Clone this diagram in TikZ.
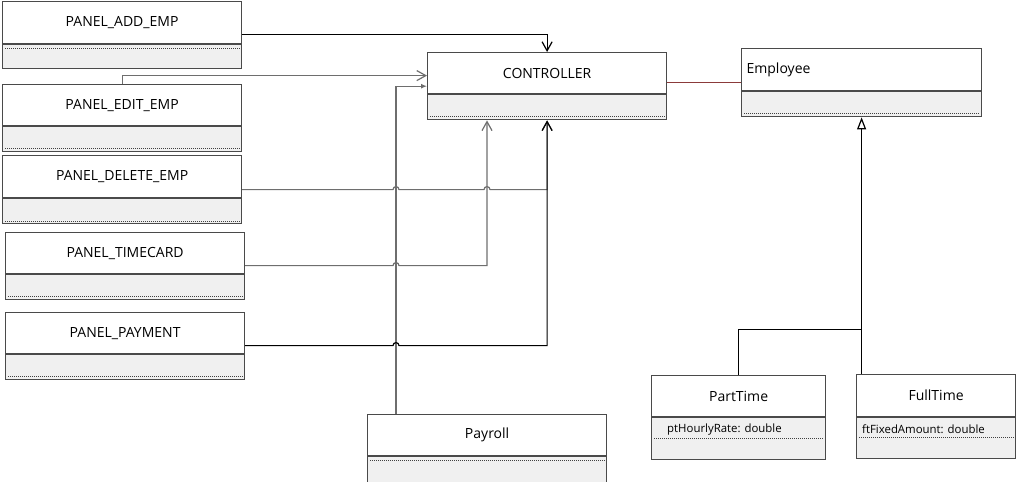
\documentclass[tikz,border=0pt]{standalone}
\usepackage{fontspec}
\setmainfont{Open Sans}
\usepackage{tikz}
\usetikzlibrary{shapes,arrows.meta,calc,positioning}
\definecolor{boxline}{HTML}{4A4A4A}
\definecolor{opsfill}{HTML}{F0F0F0}
\definecolor{wire}{HTML}{6E6E6E}
\definecolor{assocred}{HTML}{8B3A3A}
\tikzstyle{cls} = [draw=boxline, fill=white, line width=1.2pt, inner sep=0pt, anchor=north west,
  minimum width=239pt, minimum height=41pt, font=\fontsize{14}{16}\selectfont]
\tikzstyle{ops} = [draw=boxline, fill=opsfill, line width=1.2pt, inner sep=0pt, anchor=north,
  minimum width=239pt, minimum height=25pt]
\tikzstyle{attr} = [inner sep=0pt, anchor=west, font=\fontsize{11.4}{13}\selectfont]
\tikzset{
  sep/.style ={draw=black!75, line width=0.8pt, dash pattern=on 1pt off 1pt},
  dep/.style ={draw=wire, line width=1.2pt, -{Straight Barb[length=9pt,width=10pt]}},
  depb/.style ={draw=black, line width=1.2pt, -{Straight Barb[length=9pt,width=10pt]}},
  gen/.style ={draw=black, line width=1.2pt, -{Triangle[open,length=12pt,width=9pt,fill=white]}},
  assoc/.style ={draw=assocred, line width=1pt}
}

\begin{document}
\begin{tikzpicture}[x=1pt,y=-1pt]
	\useasboundingbox (0,0) rectangle (1018,482);
	% panels on the left
	\node[cls, minimum height=42pt] (addemp) at (2,1) {PANEL\_ADD\_EMP};
	\node[ops, minimum height=24pt] (addempops) at (addemp.south) {};
	\node[cls] (editemp) at (2,84) {PANEL\_EDIT\_EMP};
	\node[ops] (editempops) at (editemp.south) {};
	\node[cls, minimum height=42pt] (delemp) at (2,155) {PANEL\_DELETE\_EMP};
	\node[ops] (delempops) at (delemp.south) {};
	\node[cls] (timecard) at (5,232) {PANEL\_TIMECARD};
	\node[ops] (timecardops) at (timecard.south) {};
	\node[cls] (payment) at (5,312) {PANEL\_PAYMENT};
	\node[ops] (paymentops) at (payment.south) {};
	% controller and payroll
	\node[cls] (ctrl) at (427,52) {CONTROLLER};
	\node[ops] (ctrlops) at (ctrl.south) {};
	\node[cls] (payroll) at (367,414) {Payroll};
	\node[ops, minimum height=26pt] (payrollops) at (payroll.south) {};
	% employee hierarchy
	\node[cls, minimum width=240pt, minimum height=42pt, text width=230pt, align=left, inner xsep=5pt] (employee) at (741,48) {Employee};
	\node[ops, minimum width=240pt] (employeeops) at (employee.south) {};
	\node[cls, minimum width=174pt] (parttime) at (651,375) {PartTime};
	\node[ops, minimum width=174pt, minimum height=42pt] (parttimeops) at (parttime.south) {};
	\node[attr] (ptrate) at ([xshift=16pt,yshift=-12pt]parttimeops.north west) {ptHourlyRate: double};
	\node[cls, minimum width=159pt, minimum height=42pt] (fulltime) at (856,374) {FullTime};
	\node[ops, minimum width=159pt, minimum height=41pt] (fulltimeops) at (fulltime.south) {};
	\node[attr] (ftamount) at ([xshift=6pt,yshift=-12pt]fulltimeops.north west) {ftFixedAmount: double};
	% dotted separators
	\draw[sep] ([xshift=3pt,yshift=-4pt]addempops.north west) -- ([xshift=-3pt,yshift=-4pt]addempops.north east);
	\draw[sep] ([xshift=3pt,yshift=4pt]editempops.south west) -- ([xshift=-3pt,yshift=4pt]editempops.south east);
	\draw[sep] ([xshift=3pt,yshift=3pt]delempops.south west) -- ([xshift=-3pt,yshift=3pt]delempops.south east);
	\draw[sep] ([xshift=3pt,yshift=4pt]timecardops.south west) -- ([xshift=-3pt,yshift=4pt]timecardops.south east);
	\draw[sep] ([xshift=3pt,yshift=4pt]paymentops.south west) -- ([xshift=-3pt,yshift=4pt]paymentops.south east);
	\draw[sep] ([xshift=3pt,yshift=4pt]ctrlops.south west) -- ([xshift=-3pt,yshift=4pt]ctrlops.south east);
	\draw[sep] ([xshift=3pt,yshift=-4pt]payrollops.north west) -- ([xshift=-3pt,yshift=-4pt]payrollops.north east);
	\draw[sep] ([xshift=3pt,yshift=4pt]employeeops.south west) -- ([xshift=-3pt,yshift=4pt]employeeops.south east);
	\draw[sep] ([xshift=3pt,yshift=-21pt]parttimeops.north west) -- ([xshift=-3pt,yshift=-21pt]parttimeops.north east);
	\draw[sep] ([xshift=3pt,yshift=-20pt]fulltimeops.north west) -- ([xshift=-3pt,yshift=-20pt]fulltimeops.north east);
	% bus points
	\coordinate (pbus) at ([xshift=29pt]payroll.north west);
	\coordinate (tbus) at ([xshift=60pt]ctrlops.south west);
	\coordinate (dbus) at (ctrlops.south);
	\coordinate (astart) at ([yshift=-12pt]addemp.east);
	\coordinate (dstart) at ([yshift=-13pt]delemp.east);
	\coordinate (tstart) at ([yshift=-12.5pt]timecard.east);
	\coordinate (pstart) at ([yshift=-12.5pt]payment.east);
	\coordinate (join) at ([yshift=-212pt]employeeops.south);
	% connectors to the controller
	\draw[depb] (astart) -| (ctrl.north);
	\draw[dep] (editemp.north) |- ([yshift=-2.5pt]ctrl.west);
	\draw[draw=wire, line width=1.2pt, -{Latex[length=6pt,width=5pt]}] (pbus) |- ([yshift=8pt]ctrl.south west);
	\draw[dep] (dstart) -- ($(pbus |- dstart)+(-3,0)$) arc (180:360:3)
		-- ($(tbus |- dstart)+(-3,0)$) arc (180:360:3) -- (dbus |- dstart) -- (dbus);
	\draw[dep] (tstart) -- ($(pbus |- tstart)+(-3,0)$) arc (180:360:3) -- (tbus |- tstart) -- (tbus);
	\draw[depb] (pstart) -- ($(pbus |- pstart)+(-3,0)$) arc (180:360:3) -- (dbus |- pstart) -- (dbus);
	% controller to employee
	\draw[assoc] ([yshift=-9.5pt]ctrl.east) -- ([yshift=-9.5pt]ctrl.east -| employee.west);
	% generalisation
	\draw[gen] (employeeops.south |- fulltime.north) -- (employeeops.south);
	\draw[draw=black, line width=1.2pt] (parttime.north) |- (join);
\end{tikzpicture}
\end{document}
